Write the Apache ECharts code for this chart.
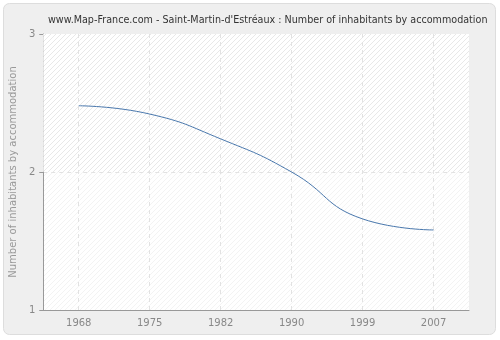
<!DOCTYPE html>
<html><head><meta charset="utf-8">
<script src="https://cdn.jsdelivr.net/npm/echarts@6/dist/echarts.min.js"></script>
<style>html,body{margin:0;padding:0;background:#fff}#c{width:500px;height:340px}</style>
</head><body><div id="c"></div>
<script>
var years = ['1968','1975','1982','1990','1999','2007'];
var inhabitants = [2.48, 2.42, 2.24, 2.00, 1.66, 1.58];
var yTicks = [1, 2, 3];

function hatch(col){
  var c = document.createElement('canvas');
  c.width = 5; c.height = 5;
  var g = c.getContext('2d');
  g.fillStyle = '#ffffff'; g.fillRect(0,0,5,5);
  g.strokeStyle = col; g.lineWidth = 1;
  g.beginPath(); g.moveTo(0,5); g.lineTo(5,0); g.stroke();
  g.beginPath(); g.moveTo(-1,1); g.lineTo(1,-1); g.stroke();
  g.beginPath(); g.moveTo(4,6); g.lineTo(6,4); g.stroke();
  return c;
}

var chart = echarts.init(document.getElementById('c'), null, {renderer:'canvas'});
chart.setOption({
  animation: false,
  backgroundColor: '#ffffff',
  graphic: [{
    type: 'rect', z: -10, silent: true,
    shape: {x: 3.5, y: 3.5, width: 492, height: 331, r: 6},
    style: {fill: '#efefef', stroke: '#dddddd', lineWidth: 1}
  }],
  title: {
    text: "www.Map-France.com - Saint-Martin-d'Estréaux : Number of inhabitants by accommodation",
    left: 43, top: 10,
    textStyle: {fontFamily: 'DejaVu Sans', fontSize: 9.6, fontWeight: 'normal', color: '#333'}
  },
  grid: {left: 40, right: 31, top: 34, bottom: 30, show: true,
    backgroundColor: {image: hatch('#f3f3f3'), repeat: 'repeat'}, borderWidth: 0},
  xAxis: {
    type: 'category', data: years, boundaryGap: true,
    axisLine: {lineStyle: {color: '#999'}},
    axisTick: {alignWithLabel: true, length: 4, lineStyle: {color: '#999'}},
    axisLabel: {color: '#888', fontFamily: 'DejaVu Sans', fontSize: 10, margin: 8},
    splitLine: {show: false}
  },
  yAxis: {
    type: 'value', min: yTicks[0], max: yTicks[yTicks.length-1], interval: 1,
    name: 'Number of inhabitants by accommodation', nameLocation: 'middle', nameGap: 25,
    nameTextStyle: {color: '#999', fontFamily: 'DejaVu Sans', fontSize: 10},
    axisLine: {show: true, lineStyle: {color: '#999'}},
    axisTick: {show: true, length: 4, lineStyle: {color: '#999'}},
    axisLabel: {color: '#888', fontFamily: 'DejaVu Sans', fontSize: 10, margin: 8},
    splitLine: {show: true, lineStyle: {color: '#e2e2e2', type: [4,4]}}
  },
  series: [{
    type: 'line', data: inhabitants, smooth: 0.5, symbol: 'none',
    lineStyle: {color: '#4a78ad', width: 1}, z: 5,
    markArea: {
      silent: true,
      itemStyle: {color: {image: hatch('#e8e8e8'), repeat: 'repeat'}},
      data: [[{yAxis: yTicks[1]}, {yAxis: yTicks[2]}]]
    },
    markLine: {
      silent: true, symbol: 'none', label: {show: false},
      lineStyle: {color: '#e2e2e2', type: [4,4], width: 1},
      data: years.map(function(y){ return {xAxis: y}; })
    }
  }]
});
</script></body></html>
